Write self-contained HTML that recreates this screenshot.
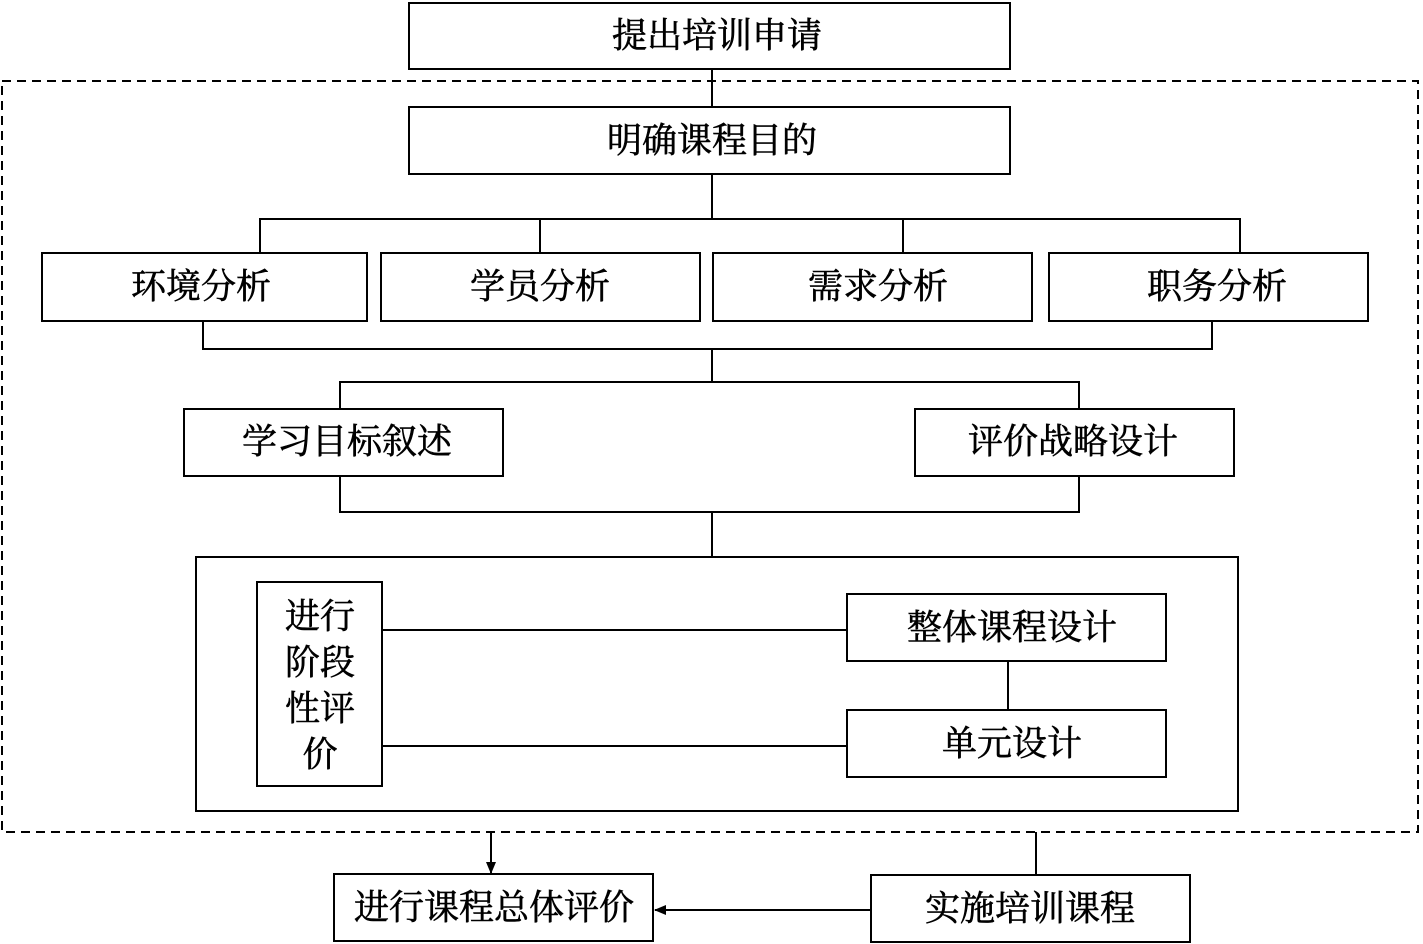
<!DOCTYPE html>
<html><head><meta charset="utf-8"><style>
html,body{margin:0;padding:0;background:#fff;}
svg{display:block;}
text{font-family:"Liberation Serif","Noto Serif CJK SC",serif;font-size:35px;fill:#000;stroke:#000;stroke-width:0.6;text-anchor:middle;dominant-baseline:central;}
</style></head><body>
<svg width="1423" height="944" viewBox="0 0 1423 944" xmlns="http://www.w3.org/2000/svg">
<defs><marker id="a" markerWidth="12" markerHeight="10" refX="11" refY="5" orient="auto" markerUnits="userSpaceOnUse"><path d="M0,0 L12,5 L0,10 Z" fill="#000"/></marker></defs>
<g fill="none" stroke="#000" stroke-width="2">
<rect x="2" y="81" width="1416" height="751" stroke-dasharray="9,6"/>
<rect x="409" y="3" width="601" height="66"/>
<rect x="409" y="107" width="601" height="67"/>
<line x1="712" y1="69" x2="712" y2="107"/>
<line x1="712" y1="174" x2="712" y2="219"/>
<polyline points="260,253 260,219 1240,219 1240,253"/>
<line x1="540" y1="219" x2="540" y2="253"/>
<line x1="903" y1="219" x2="903" y2="253"/>
<rect x="42" y="253" width="325" height="68"/>
<rect x="381" y="253" width="319" height="68"/>
<rect x="713" y="253" width="319" height="68"/>
<rect x="1049" y="253" width="319" height="68"/>
<polyline points="203,321 203,349 1212,349 1212,321"/>
<line x1="712" y1="349" x2="712" y2="382"/>
<polyline points="340,409 340,382 1079,382 1079,409"/>
<rect x="184" y="409" width="319" height="67"/>
<rect x="915" y="409" width="319" height="67"/>
<polyline points="340,476 340,512 1079,512 1079,476"/>
<line x1="712" y1="512" x2="712" y2="557"/>
<rect x="196" y="557" width="1042" height="254"/>
<rect x="257" y="582" width="125" height="204"/>
<line x1="382" y1="630" x2="847" y2="630"/>
<line x1="382" y1="746" x2="847" y2="746"/>
<rect x="847" y="594" width="319" height="67"/>
<rect x="847" y="710" width="319" height="67"/>
<line x1="1008" y1="661" x2="1008" y2="710"/>
<line x1="491" y1="832" x2="491" y2="873" marker-end="url(#a)"/>
<rect x="334" y="874" width="319" height="67"/>
<rect x="871" y="875" width="319" height="67"/>
<line x1="1036" y1="832" x2="1036" y2="875"/>
<line x1="871" y1="910" x2="655" y2="910" marker-end="url(#a)"/>
</g>
<text x="717" y="36">提出培训申请</text>
<text x="712" y="141">明确课程目的</text>
<text x="201" y="287">环境分析</text>
<text x="540" y="287">学员分析</text>
<text x="878" y="287">需求分析</text>
<text x="1217" y="287">职务分析</text>
<text x="347" y="442">学习目标叙述</text>
<text x="1073" y="442">评价战略设计</text>
<text x="320" y="617">进行</text>
<text x="320" y="663">阶段</text>
<text x="320" y="709">性评</text>
<text x="320" y="755">价</text>
<text x="1012" y="628">整体课程设计</text>
<text x="1012" y="744">单元设计</text>
<text x="494" y="908">进行课程总体评价</text>
<text x="1030" y="909">实施培训课程</text>
</svg>
</body></html>
